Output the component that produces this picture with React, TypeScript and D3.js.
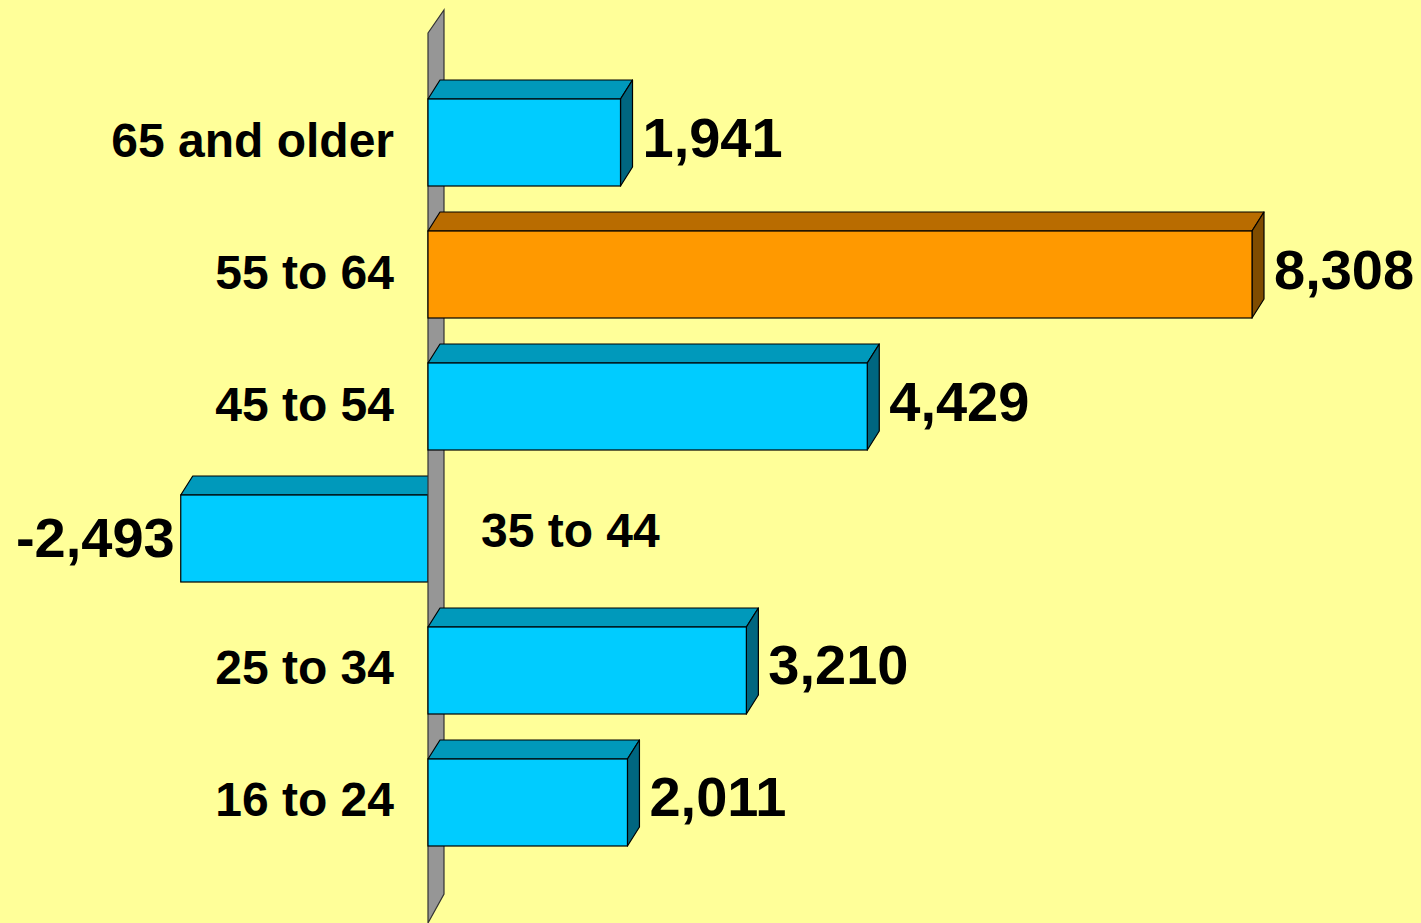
import { useEffect, useRef } from "react";
import * as d3 from "d3";

// age groups, top to bottom
const categories = ["65 and older", "55 to 64", "45 to 54", "35 to 44", "25 to 34", "16 to 24"];
const values = [1941, 8308, 4429, -2493, 3210, 2011];
const highlight = ["55 to 64"];

const WIDTH = 1421;
const HEIGHT = 923;

const App = () => {
  const svgRef = useRef<SVGSVGElement | null>(null);

  useEffect(() => {
    if (!svgRef.current) return;
    const svg = d3.select(svgRef.current);
    svg.selectAll("*").remove();
    renderBars(svg);
  }, []);

  return (
    <div style={{ position: "fixed", left: 0, top: 0, width: WIDTH, height: HEIGHT, background: "#FFFF99" }}>
      <svg ref={svgRef} width={WIDTH} height={HEIGHT} />
    </div>
  );
};

function renderBars(svg: d3.Selection<SVGSVGElement, unknown, null, undefined>) {
  const font = "'Liberation Sans', Arial, sans-serif";
  const depthX = 12;
  const depthY = -19;

  const x = d3.scaleLinear().domain([0, 8308]).range([428, 1252]);
  const y = d3
    .scaleBand<string>()
    .domain(categories)
    .range([76.5, 868.5])
    .paddingInner(0.3409)
    .paddingOuter(0.1705);

  const data = categories.map((c, i) => ({ cat: c, value: values[i] }));
  const x0 = x(0);

  const colors = (d: { cat: string }) =>
    highlight.includes(d.cat)
      ? { front: "#FF9900", top: "#B96C00", side: "#7F4C00" }
      : { front: "#00CCFF", top: "#0099BB", side: "#006680" };

  const drawBar = (g: d3.Selection<SVGGElement, unknown, null, undefined>, d: { cat: string; value: number }) => {
    const c = colors(d);
    const left = Math.min(x0, x(d.value));
    const right = Math.max(x0, x(d.value));
    const top = y(d.cat)!;
    const bottom = top + y.bandwidth();

    // top face
    g.append("polygon")
      .attr("points", [
        [left, top],
        [left + depthX, top + depthY],
        [right + depthX, top + depthY],
        [right, top],
      ].join(" "))
      .attr("fill", c.top)
      .attr("stroke", "#000")
      .attr("stroke-width", 1.2)
      .attr("stroke-linejoin", "round");

    // right side face (only visible for positive bars)
    if (d.value > 0) {
      g.append("polygon")
        .attr("points", [
          [right, top],
          [right + depthX, top + depthY],
          [right + depthX, bottom + depthY],
          [right, bottom],
        ].join(" "))
        .attr("fill", c.side)
        .attr("stroke", "#000")
        .attr("stroke-width", 1.2)
        .attr("stroke-linejoin", "round");
    }

    // front face
    g.append("rect")
      .attr("x", left)
      .attr("y", top)
      .attr("width", right - left)
      .attr("height", bottom - top)
      .attr("fill", c.front)
      .attr("stroke", "#000")
      .attr("stroke-width", 1.2);
  };

  const negG = svg.append("g");
  data.filter((d) => d.value < 0).forEach((d) => drawBar(negG, d));

  // axis wall
  const wallTop = y(categories[0])! - y.step() / 2;
  svg
    .append("polygon")
    .attr("points", [
      [x0, wallTop],
      [x0 + 16, wallTop - 23],
      [x0 + 16, HEIGHT - 29],
      [x0, HEIGHT],
    ].join(" "))
    .attr("fill", "#969696")
    .attr("stroke", "#333")
    .attr("stroke-width", 1.2);

  const posG = svg.append("g");
  data.filter((d) => d.value >= 0).forEach((d) => drawBar(posG, d));

  // category labels
  svg
    .append("g")
    .selectAll("text")
    .data(data)
    .join("text")
    .attr("x", (d) => (d.value >= 0 ? x0 - 34 : x0 + 53))
    .attr("y", (d) => y(d.cat)! + y.bandwidth() / 2 + (d.value >= 0 ? 14 : 9))
    .attr("text-anchor", (d) => (d.value >= 0 ? "end" : "start"))
    .attr("font-family", font)
    .attr("font-weight", "bold")
    .attr("font-size", 48)
    .attr("fill", "#000")
    .text((d) => d.cat);

  // value labels
  const fmt = d3.format(",");
  svg
    .append("g")
    .selectAll("text")
    .data(data)
    .join("text")
    .attr("x", (d) => (d.value >= 0 ? x(d.value) + 22 : x(d.value) - 6))
    .attr("y", (d) => y(d.cat)! + y.bandwidth() / 2 + (d.value >= 0 ? 14 : 18.5))
    .attr("text-anchor", (d) => (d.value >= 0 ? "start" : "end"))
    .attr("font-family", font)
    .attr("font-weight", "bold")
    .attr("font-size", 56)
    .attr("fill", "#000")
    .text((d) => (d.value < 0 ? "-" + fmt(-d.value) : fmt(d.value)));
}

export default App;
